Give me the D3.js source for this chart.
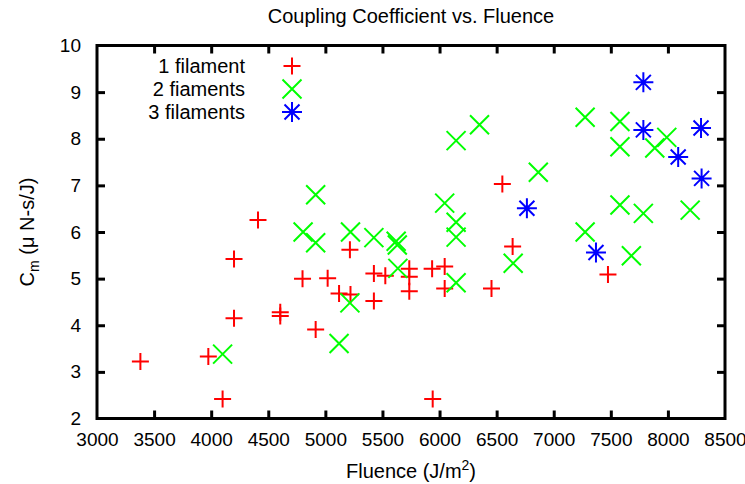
<!DOCTYPE html>
<html>
<head>
<meta charset="utf-8">
<script src="https://cdn.jsdelivr.net/npm/d3@7"></script>
<style>
  body { margin: 0; background: #fff; }
  text { font-family: "Liberation Sans", Arial, sans-serif; }
</style>
</head>
<body>
<div class="chart"></div>
<script>
// readings, fluence in J/m^2 and Cm in uN-s/J
var fluence1 = [3380, 3975, 4100, 4200, 4200, 4410, 4605, 4605, 4800, 4915, 5020, 5120, 5220, 5215,
  5425, 5425, 5525, 5735, 5735, 5735, 5935, 6045, 6045, 5940, 6455, 6550, 6640, 7475];
var cm1 = [3.22, 3.33, 2.42, 4.15, 5.42, 6.26, 4.28, 4.20, 5.00, 3.91, 5.01, 4.68, 4.66, 5.62,
  5.11, 4.52, 5.06, 5.21, 5.04, 4.73, 5.21, 5.26, 4.79, 2.42, 4.79, 7.03, 5.69, 5.09];

var fluence2 = [4100, 4805, 4915, 4915, 5120, 5215, 5220, 5425, 5620, 5630, 5635, 6045, 6145, 6145,
  6145, 6145, 6350, 6645, 6865, 7275, 7275, 7580, 7580, 7580, 7680, 7785, 7885, 7990, 8195];
var cm2 = [3.38, 6.00, 6.80, 5.77, 3.61, 4.48, 6.00, 5.88, 5.80, 5.72, 5.22, 6.62, 7.96, 6.21,
  5.89, 4.91, 8.30, 5.33, 7.28, 8.46, 6.00, 8.37, 7.83, 6.58, 5.49, 6.40, 7.80, 8.03, 6.47];

var fluence3 = [6765, 7370, 7785, 7785, 8090, 8290, 8295];
var cm3 = [6.51, 5.56, 9.21, 8.19, 7.61, 8.23, 7.15];

var xTicks = [3000, 3500, 4000, 4500, 5000, 5500, 6000, 6500, 7000, 7500, 8000, 8500];
var yTicks = [2, 3, 4, 5, 6, 7, 8, 9, 10];
var seriesNames = ['1 filament', '2 fiaments', '3 filaments'];

var W = 745, H = 484;
// note: "top" is taken by window.top, so use other names
var padL = 97, padR = 725, padT = 45.5, padB = 418.5;
var fs = '20px';

var svg = d3.select('.chart')
  .append('svg')
    .attr('width', W)
    .attr('height', H);

var x = d3.scaleLinear().domain([3000, 8500]).range([padL, padR]);
var y = d3.scaleLinear().domain([2, 10]).range([padB, padT]);

// axes: ticks point inwards, mirrored on top and right
function styleAxis(g) {
  g.select('.domain').remove();
  g.selectAll('.tick line').attr('stroke', '#000').attr('stroke-width', 3);
  g.selectAll('.tick text')
    .attr('fill', '#000')
    .style('font-size', '19px');
}

svg.append('g')
  .attr('transform', 'translate(0,' + padB + ')')
  .call(d3.axisBottom(x).tickValues(xTicks).tickFormat(d3.format('d')).tickSizeInner(-8).tickSizeOuter(0).tickPadding(14))
  .call(styleAxis);

svg.append('g')
  .attr('transform', 'translate(0,' + padT + ')')
  .call(d3.axisTop(x).tickValues(xTicks).tickFormat('').tickSizeInner(-8).tickSizeOuter(0))
  .call(styleAxis);

svg.append('g')
  .attr('transform', 'translate(' + padL + ',0)')
  .call(d3.axisLeft(y).tickValues(yTicks).tickFormat(d3.format('d')).tickSizeInner(-8).tickSizeOuter(0).tickPadding(16))
  .call(styleAxis);

svg.append('g')
  .attr('transform', 'translate(' + padR + ',0)')
  .call(d3.axisRight(y).tickValues(yTicks).tickFormat('').tickSizeInner(-8).tickSizeOuter(0))
  .call(styleAxis);

// hide the end ticks that sit on the frame
svg.selectAll('.tick')
  .filter(d => d === 3000 || d === 8500 || d === 2 || d === 10)
  .select('line').remove();

svg.append('rect')
  .attr('x', padL)
  .attr('y', padT)
  .attr('width', padR - padL)
  .attr('height', padB - padT)
  .attr('fill', 'none')
  .attr('stroke', '#000')
  .attr('stroke-width', 3);

// marker path generators
function plusPath(s) {
  return 'M' + (-s) + ',0H' + s + 'M0,' + (-s) + 'V' + s;
}
function crossPath(s) {
  return 'M' + (-s) + ',' + (-s) + 'L' + s + ',' + s + 'M' + (-s) + ',' + s + 'L' + s + ',' + (-s);
}
function starPath(s) {
  var d = crossPath(s * 0.75);
  return d + 'M' + (-s) + ',0H' + s + 'M0,' + (-s) + 'V' + s;
}

var series = [
  { xs: fluence1, ys: cm1, color: '#ff0000', path: plusPath(8.5) },
  { xs: fluence2, ys: cm2, color: '#00ff00', path: crossPath(9.5) },
  { xs: fluence3, ys: cm3, color: '#0000ff', path: starPath(10) }
];

series.forEach(function(s) {
  svg.append('g')
    .selectAll('path')
    .data(s.xs.map((v, i) => [v, s.ys[i]]))
    .enter()
    .append('path')
      .attr('d', s.path)
      .attr('transform', d => 'translate(' + x(d[0]) + ',' + y(d[1]) + ')')
      .attr('fill', 'none')
      .attr('stroke', s.color)
      .attr('stroke-width', 2);
});

// legend
var legend = svg.append('g')
  .selectAll('g')
  .data(series)
  .enter()
    .append('g')
    .attr('transform', (d, i) => 'translate(0,' + (66 + i * 23) + ')');

legend.append('text')
  .attr('x', 245)
  .attr('y', 7)
  .attr('text-anchor', 'end')
  .style('font-size', fs)
  .text((d, i) => seriesNames[i]);

legend.append('path')
  .attr('d', d => d.path)
  .attr('transform', 'translate(292,0)')
  .attr('fill', 'none')
  .attr('stroke', d => d.color)
  .attr('stroke-width', 2);

// titles
svg.append('text')
  .attr('x', (padL + padR) / 2)
  .attr('y', 23)
  .attr('text-anchor', 'middle')
  .style('font-size', fs)
  .text('Coupling Coefficient vs. Fluence');

var xl = svg.append('text')
  .attr('x', (padL + padR) / 2)
  .attr('y', 478)
  .attr('text-anchor', 'middle')
  .style('font-size', fs);
xl.append('tspan').text('Fluence (J/m');
xl.append('tspan').attr('dy', -8).style('font-size', '14px').text('2');
xl.append('tspan').attr('dy', 8).text(')');

var yl = svg.append('text')
  .attr('transform', 'translate(34,' + (padT + padB) / 2 + ') rotate(-90)')
  .attr('text-anchor', 'middle')
  .style('font-size', fs);
yl.append('tspan').text('C');
yl.append('tspan').attr('dy', 5).style('font-size', '14px').text('m');
yl.append('tspan').attr('dy', -5).text(' (\u03bc N-s/J)');
</script>
</body>
</html>
